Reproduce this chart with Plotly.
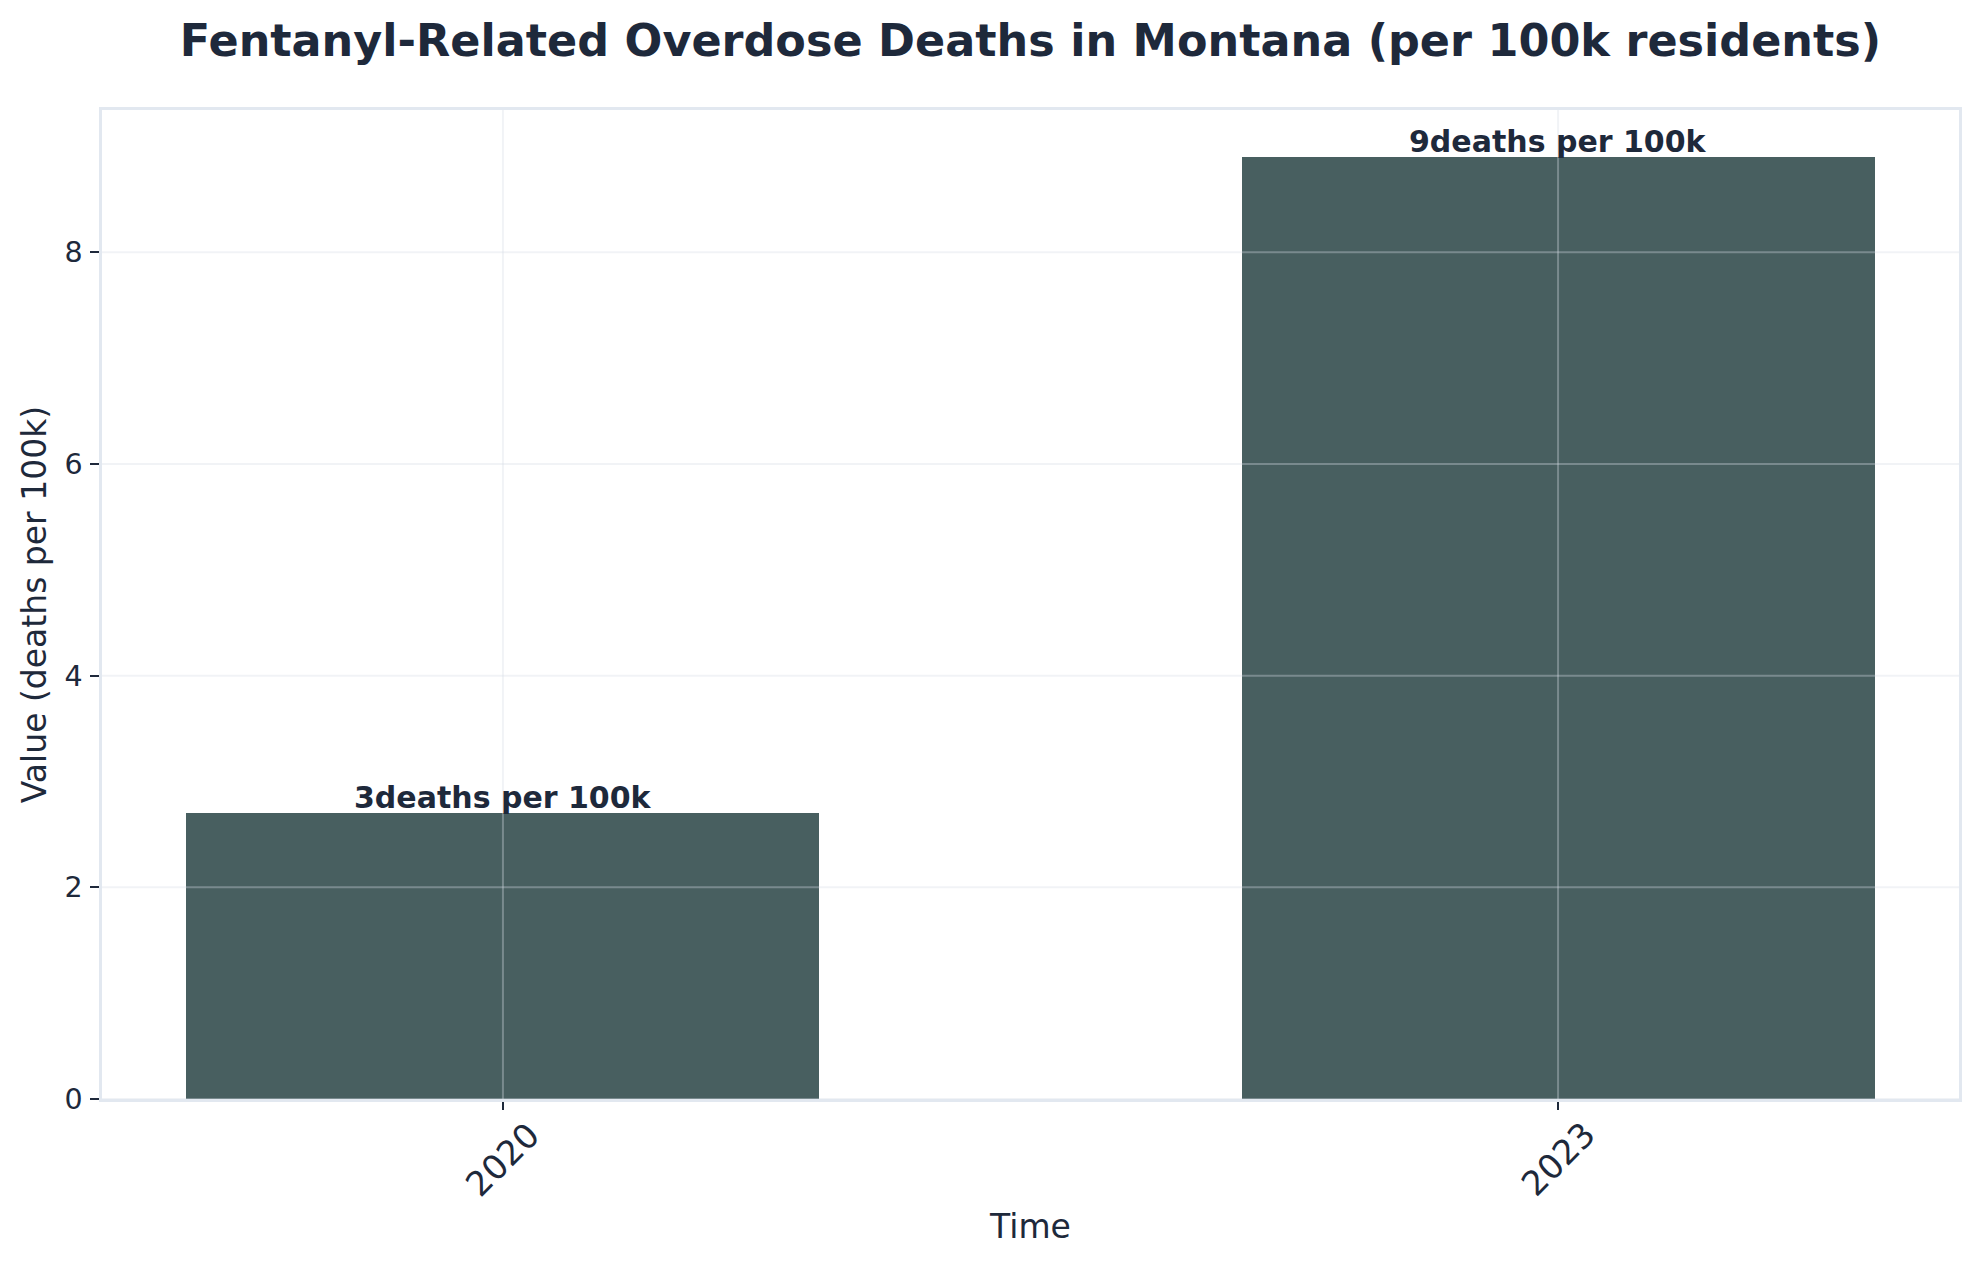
import plotly.graph_objects as go

# ---- data ----
years = ["2020", "2023"]
values = [2.7, 8.9]
unit_label = "deaths per 100k"
y_ticks = [0, 2, 4, 6, 8]
title_text = "Fentanyl-Related Overdose Deaths in Montana (per 100k residents)"
x_title = "Time"
y_title = "Value (deaths per 100k)"

TXT = "#1e293b"
BAR = "#485f60"
SPINE = "#e2e8f0"
GRID = "rgba(215,222,230,0.35)"
FONT = "DejaVu Sans"

xpos = list(range(len(years)))

fig = go.Figure()
fig.add_trace(go.Bar(x=xpos, y=values, width=0.6, marker=dict(color=BAR, line=dict(width=0)),
                     hoverinfo="skip", showlegend=False))

ymax = max(values) * 1.05

# gridlines above bars (matplotlib style)
shapes = []
for t in y_ticks:
    shapes.append(dict(type="line", xref="paper", x0=0, x1=1, yref="y", y0=t, y1=t,
                       line=dict(color=GRID, width=2), layer="above"))
for p in xpos:
    shapes.append(dict(type="line", xref="x", x0=p, x1=p, yref="paper", y0=0, y1=1,
                       line=dict(color=GRID, width=2), layer="above"))

annotations = []
for p, c, v in zip(xpos, years, values):
    annotations.append(dict(x=p, y=v, xref="x", yref="y", text=f"<b>{round(v)}{unit_label}</b>",
                            showarrow=False, yanchor="bottom", xanchor="center", yshift=-4,
                            font=dict(family=FONT, size=30, color=TXT)))
    annotations.append(dict(x=p, y=0, xref="x", yref="paper", text=c, showarrow=False,
                            textangle=-45, xanchor="center", yanchor="middle", yshift=-60,
                            font=dict(family=FONT, size=34, color=TXT)))

fig.update_layout(
    width=1977, height=1265,
    margin=dict(l=102, r=18, t=110, b=166, autoexpand=False),
    paper_bgcolor="white", plot_bgcolor="white",
    title=dict(text=f"<b>{title_text}</b>", x=0.5, xref="paper", xanchor="center",
               y=1 - 40 / 1265, yref="container", yanchor="middle",
               font=dict(family=FONT, size=44.5, color=TXT)),
    font=dict(family=FONT, color=TXT),
    shapes=shapes,
    annotations=annotations,
    bargap=0,
)
fig.update_xaxes(range=[-0.38, 1.38], tickvals=xpos, ticktext=years, showgrid=False, zeroline=False,
                 showline=True, linecolor=SPINE, linewidth=2.5, mirror=True,
                 ticks="outside", ticklen=8, tickwidth=2, tickcolor=TXT,
                 showticklabels=False,
                 title=dict(text=x_title, font=dict(family=FONT, size=33, color=TXT), standoff=107))
fig.update_yaxes(range=[0, ymax], tickvals=y_ticks, showgrid=False, zeroline=False,
                 showline=True, linecolor=SPINE, linewidth=2.5, mirror=True,
                 ticks="outside", ticklen=9, tickwidth=2, tickcolor=TXT,
                 ticklabelstandoff=2,
                 tickfont=dict(family=FONT, size=28.5, color=TXT),
                 title=dict(text=y_title, font=dict(family=FONT, size=33, color=TXT), standoff=8))

fig.write_html("out.html", config={"displayModeBar": False},
               post_script="document.body.style.margin='0';")
